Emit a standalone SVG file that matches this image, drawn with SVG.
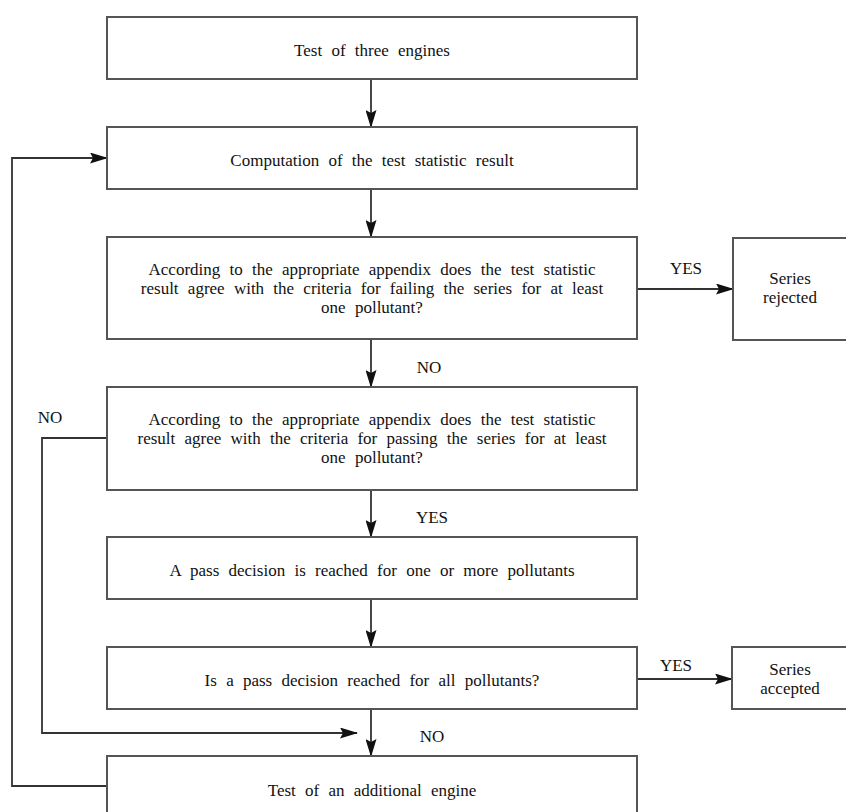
<svg xmlns="http://www.w3.org/2000/svg" width="846" height="812" viewBox="0 0 846 812">
<defs>
<marker id="ah" markerWidth="18" markerHeight="11" refX="17" refY="5.5" orient="auto" markerUnits="userSpaceOnUse">
<path d="M0,0 L18,5.5 L0,11 L3,5.5 Z" fill="#111"/>
</marker>
<style>
.box{fill:#fff;stroke:#555;stroke-width:2}
.t{font-family:"Liberation Serif","Times New Roman",serif;font-size:17px;fill:#111;text-anchor:middle;word-spacing:5px}
.c{fill:none;stroke:#333;stroke-width:1.8}
</style>
</defs>
<rect width="846" height="812" fill="#fff"/>
<g id="connectors">
<line class="c" x1="371" y1="79" x2="371" y2="127" marker-end="url(#ah)"/>
<line class="c" x1="371" y1="189" x2="371" y2="237" marker-end="url(#ah)"/>
<line class="c" x1="371" y1="339" x2="371" y2="387" marker-end="url(#ah)"/>
<line class="c" x1="371" y1="490" x2="371" y2="537" marker-end="url(#ah)"/>
<line class="c" x1="371" y1="599" x2="371" y2="647" marker-end="url(#ah)"/>
<line class="c" x1="371" y1="709" x2="371" y2="756" marker-end="url(#ah)"/>
<line class="c" x1="637" y1="289" x2="733" y2="289" marker-end="url(#ah)"/>
<line class="c" x1="637" y1="679" x2="732" y2="679" marker-end="url(#ah)"/>
<polyline class="c" points="107,786 12,786 12,158 107,158" marker-end="url(#ah)"/>
<polyline class="c" points="107,438 42,438 42,733 357,733" marker-end="url(#ah)"/>
<text class="t" x="429" y="373">NO</text>
<text class="t" x="432" y="523">YES</text>
<text class="t" x="432" y="742">NO</text>
<text class="t" x="686" y="274">YES</text>
<text class="t" x="676" y="671">YES</text>
<text class="t" x="50" y="423">NO</text>
</g>
<g id="n1"><rect class="box" x="107" y="17" width="530" height="62"/><text class="t" x="372" y="56">Test of three engines</text></g>
<g id="n2"><rect class="box" x="107" y="127" width="530" height="62"/><text class="t" x="372" y="166">Computation of the test statistic result</text></g>
<g id="n3"><rect class="box" x="107" y="237" width="530" height="102"/><text class="t" x="372" y="275">According to the appropriate appendix does the test statistic</text><text class="t" x="372" y="294">result agree with the criteria for failing the series for at least</text><text class="t" x="372" y="313">one pollutant?</text></g>
<g id="n4"><rect class="box" x="107" y="387" width="530" height="103"/><text class="t" x="372" y="425">According to the appropriate appendix does the test statistic</text><text class="t" x="372" y="444">result agree with the criteria for passing the series for at least</text><text class="t" x="372" y="463">one pollutant?</text></g>
<g id="n5"><rect class="box" x="107" y="537" width="530" height="62"/><text class="t" x="372" y="576">A pass decision is reached for one or more pollutants</text></g>
<g id="n6"><rect class="box" x="107" y="647" width="530" height="62"/><text class="t" x="372" y="686">Is a pass decision reached for all pollutants?</text></g>
<g id="n7"><rect class="box" x="107" y="756" width="530" height="70"/><text class="t" x="372" y="796">Test of an additional engine</text></g>
<g id="n8"><rect class="box" x="733" y="238" width="120" height="102"/><text class="t" x="790" y="284">Series</text><text class="t" x="790" y="303">rejected</text></g>
<g id="n9"><rect class="box" x="732" y="647" width="120" height="62"/><text class="t" x="790" y="675">Series</text><text class="t" x="790" y="694">accepted</text></g>
</svg>
